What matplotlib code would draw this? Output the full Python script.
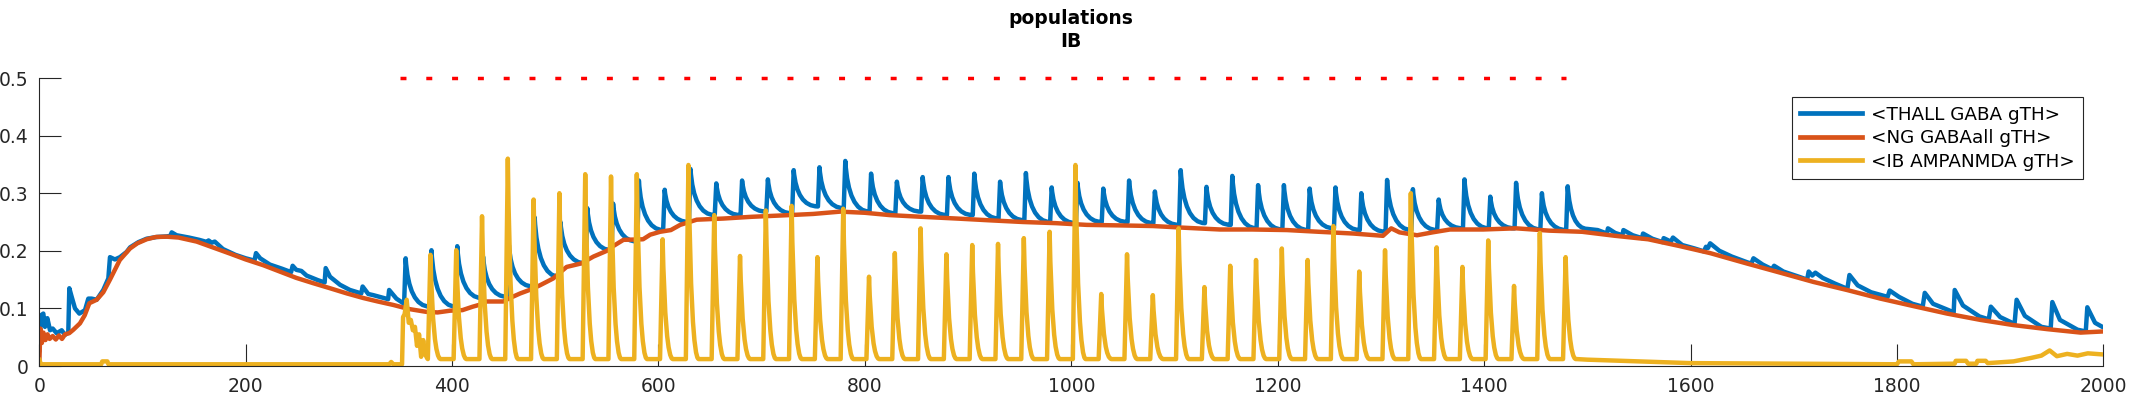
import numpy as np
import matplotlib
matplotlib.use("Agg")
import matplotlib.pyplot as plt
from matplotlib.path import Path
from matplotlib.patches import PathPatch
from matplotlib.lines import Line2D

BLUE, RED, YELLOW, INK = "#0072BD", "#D95319", "#EDB120", "#262626"

# stimulus train (red dotted marker at 0.5)
stim_span = [349.5, 1479]
stim_level = 0.5

# <IB AMPANMDA gTH>: quiet start + first burst, then one peak per pulse
ib_pre_t = [0, 1.5, 60, 61, 66, 67, 339, 341, 343, 351.5, 352.5, 354, 356, 358, 360,
            362, 364, 366, 368, 370, 372, 374, 376]
ib_pre_v = [0.012, 0.003, 0.003, 0.008, 0.008, 0.003, 0.003, 0.007, 0.003, 0.003, 0.085,
            0.09, 0.115, 0.075, 0.08, 0.062, 0.068, 0.035, 0.055, 0.016, 0.045, 0.02, 0.013]
ib_peak_t = [379, 404, 429, 454, 479, 504, 529, 554, 579, 604, 629, 654, 679, 704, 729,
             754, 779, 804, 829, 854, 879, 904, 929, 954, 979, 1004, 1029, 1054, 1079,
             1104, 1129, 1154, 1179, 1204, 1229, 1254, 1279, 1304, 1329, 1354, 1379,
             1404, 1429, 1454, 1479]
ib_peak_v = [0.193, 0.201, 0.260, 0.360, 0.289, 0.300, 0.333, 0.329, 0.333, 0.220,
             0.349, 0.262, 0.191, 0.270, 0.278, 0.189, 0.273, 0.155, 0.196, 0.239,
             0.194, 0.210, 0.212, 0.222, 0.233, 0.349, 0.125, 0.194, 0.123, 0.239,
             0.137, 0.174, 0.184, 0.204, 0.184, 0.243, 0.164, 0.201, 0.300, 0.206,
             0.172, 0.218, 0.139, 0.231, 0.189]
ib_floor = 0.012
ib_post_t = [1490, 1500, 1550, 1600, 1700, 1800, 1802, 1814, 1816, 1856, 1857, 1867,
             1869, 1877, 1878, 1886, 1888, 1913, 1930, 1940, 1948, 1955, 1965, 1975,
             1985, 2000]
ib_post_v = [0.012, 0.011, 0.008, 0.005, 0.004, 0.003, 0.008, 0.008, 0.003, 0.004,
             0.009, 0.009, 0.004, 0.004, 0.009, 0.009, 0.005, 0.008, 0.014, 0.018,
             0.027, 0.017, 0.021, 0.018, 0.022, 0.02]

# <THALL GABA gTH>
thall_pre_t = [0, 1.6, 3.9, 5.5, 7.8, 10.4, 13, 16.8, 21.7, 24.9, 28.1, 29.1, 31.4, 34.6,
               38.8, 44.3, 47.5, 50.7, 55.6, 62, 66.9, 68.5, 73.3, 78.2, 84.6, 88, 96,
               104, 114, 123.5, 127, 128.3, 133, 145, 155, 163, 164, 167, 170, 178, 190,
               200, 208.5, 210, 214, 223.5, 235, 244, 245.5, 249, 254, 259, 270, 276.5,
               277.5, 281.7, 291.4, 301, 312, 313.3, 318.8, 323.7, 338, 339, 346]
thall_pre_v = [0.025, 0.088, 0.091, 0.068, 0.083, 0.062, 0.065, 0.057, 0.062, 0.054,
               0.058, 0.135, 0.12, 0.100, 0.091, 0.097, 0.117, 0.117, 0.115, 0.132,
               0.152, 0.189, 0.185, 0.189, 0.198, 0.206, 0.215, 0.221, 0.224, 0.225,
               0.226, 0.232, 0.227, 0.223, 0.219, 0.215, 0.218, 0.214, 0.216, 0.203,
               0.193, 0.187, 0.183, 0.196, 0.187, 0.176, 0.169, 0.163, 0.174, 0.167,
               0.165, 0.157, 0.149, 0.145, 0.170, 0.155, 0.141, 0.132, 0.126, 0.138,
               0.125, 0.123, 0.116, 0.132, 0.117]
thall_peak_t = [355, 380, 405, 430, 455, 480, 505, 531, 556, 581, 606, 631, 656, 681,
                706, 731, 756, 781, 806, 831, 856, 881, 906, 931, 956, 981, 1006, 1031,
                1056, 1081, 1106, 1131, 1156, 1181, 1206, 1231, 1256, 1281, 1306, 1331,
                1356, 1381, 1406, 1431, 1456, 1481]
thall_peak_v = [0.187, 0.201, 0.208, 0.190, 0.210, 0.258, 0.250, 0.274, 0.282, 0.322,
                0.306, 0.342, 0.317, 0.322, 0.324, 0.340, 0.345, 0.356, 0.334, 0.320,
                0.328, 0.328, 0.334, 0.320, 0.335, 0.310, 0.318, 0.308, 0.322, 0.303,
                0.340, 0.311, 0.330, 0.314, 0.314, 0.308, 0.310, 0.300, 0.323, 0.307,
                0.289, 0.324, 0.294, 0.318, 0.300, 0.312]
thall_trough_v = [0.108, 0.103, 0.103, 0.118, 0.120, 0.138, 0.155, 0.178, 0.201, 0.216,
                  0.236, 0.250, 0.262, 0.262, 0.268, 0.265, 0.277, 0.274, 0.268, 0.265,
                  0.268, 0.262, 0.262, 0.256, 0.253, 0.250, 0.248, 0.250, 0.250, 0.248,
                  0.245, 0.248, 0.245, 0.239, 0.237, 0.236, 0.239, 0.236, 0.233, 0.236,
                  0.236, 0.239, 0.239, 0.239, 0.237, 0.236]
thall_post_t = [1500, 1510, 1519, 1520, 1527, 1534, 1535, 1544, 1553, 1554, 1563, 1573,
                1574, 1581, 1583, 1592, 1604, 1613, 1615, 1617, 1619, 1628, 1640, 1655,
                1659, 1661, 1670, 1679, 1681, 1690, 1705, 1713, 1714.5, 1718, 1721, 1728,
                1740, 1752, 1754, 1762, 1775, 1791, 1793, 1802, 1815, 1825, 1827, 1835,
                1850, 1855, 1856, 1864, 1880, 1889, 1891, 1900, 1914, 1916, 1924, 1940,
                1949, 1950.6, 1958, 1975, 1983, 1984.5, 1992, 2000]
thall_post_v = [0.238, 0.236, 0.230, 0.239, 0.231, 0.227, 0.236, 0.227, 0.222, 0.230,
                0.221, 0.215, 0.222, 0.216, 0.223, 0.210, 0.204, 0.199, 0.207, 0.205,
                0.213, 0.200, 0.190, 0.180, 0.178, 0.187, 0.176, 0.168, 0.174, 0.164,
                0.155, 0.150, 0.164, 0.157, 0.162, 0.153, 0.143, 0.134, 0.158, 0.140,
                0.128, 0.120, 0.131, 0.120, 0.108, 0.103, 0.127, 0.108, 0.097, 0.093,
                0.132, 0.105, 0.086, 0.081, 0.103, 0.085, 0.073, 0.115, 0.087, 0.068,
                0.065, 0.111, 0.080, 0.063, 0.060, 0.102, 0.075, 0.067]

# <NG GABAall gTH>
ng_t = [0, 1, 2.5, 4, 6, 8, 10, 13, 16, 19, 22, 25, 29, 33, 39.4, 44, 48.5, 55.6, 62,
        68.5, 78, 87.9, 95, 104, 113, 123.5, 135, 152.5, 168, 185, 200, 217, 233, 249,
        265, 281.7, 298, 314, 328, 343, 358, 375, 386, 398, 410, 420, 428, 433.5,
        449.6, 456, 466, 475, 485, 498, 505, 511, 525, 537, 550, 556, 566, 585, 592,
        601.5, 612, 621, 637, 663, 690, 727, 750, 776, 800, 824, 855, 889, 920, 953,
        985, 1015, 1050, 1079, 1110, 1144, 1175, 1209, 1240, 1273, 1302, 1310, 1318,
        1335, 1350, 1367, 1399, 1431, 1463, 1495, 1527, 1559, 1590, 1619, 1654.5,
        1687, 1719, 1751.5, 1784, 1816, 1848.6, 1881, 1913, 1945.6, 1978, 2000]
ng_v = [0.0, 0.065, 0.04, 0.058, 0.045, 0.055, 0.047, 0.052, 0.046, 0.053, 0.047,
        0.055, 0.057, 0.063, 0.074, 0.088, 0.109, 0.115, 0.128, 0.15, 0.184, 0.204,
        0.213, 0.22, 0.224, 0.2245, 0.223, 0.216, 0.206, 0.195, 0.185, 0.175, 0.164,
        0.153, 0.144, 0.135, 0.126, 0.118, 0.112, 0.106, 0.099, 0.094, 0.093, 0.096,
        0.097, 0.103, 0.107, 0.112, 0.112, 0.118, 0.126, 0.132, 0.14, 0.152, 0.163,
        0.172, 0.178, 0.19, 0.2, 0.208, 0.219, 0.22, 0.228, 0.233, 0.236, 0.245, 0.254,
        0.256, 0.259, 0.262, 0.264, 0.268, 0.266, 0.262, 0.259, 0.256, 0.253, 0.25,
        0.248, 0.245, 0.244, 0.243, 0.24, 0.237, 0.237, 0.236, 0.233, 0.23, 0.226,
        0.239, 0.232, 0.227, 0.232, 0.237, 0.237, 0.239, 0.235, 0.233, 0.226, 0.22,
        0.208, 0.196, 0.178, 0.162, 0.146, 0.132, 0.117, 0.104, 0.091, 0.080, 0.071,
        0.064, 0.058, 0.06]

labels = ["<THALL GABA gTH>", "<NG GABAall gTH>", "<IB AMPANMDA gTH>"]


def spike_train(pre_t, pre_v, pk_t, pk_v, foot_v, post_t, post_v, rise, bend, tail=None):
    """Polyline pieces joined by sharp rises and curved (quadratic) decays."""
    verts = list(zip(pre_t, pre_v))
    codes = [Path.MOVETO] + [Path.LINETO] * (len(verts) - 1)
    n = len(pk_t)
    for k in range(n):
        verts += [(pk_t[k] - rise, foot_v[k]), (pk_t[k], pk_v[k])]
        codes += [Path.LINETO, Path.LINETO]
        if tail is not None:
            end = (pk_t[k] + tail, foot_v[k])
        elif k + 1 < n:
            end = (pk_t[k + 1] - rise, foot_v[k + 1])
        else:
            end = (post_t[0], post_v[0])
        verts += [(pk_t[k] + bend, end[1]), end]
        codes += [Path.CURVE3, Path.CURVE3]
    verts += list(zip(post_t, post_v))
    codes += [Path.LINETO] * len(post_t)
    return Path(verts, codes)


LW = 3.2
fig = plt.figure(figsize=(21.33, 4.0), dpi=100)
ax = fig.add_axes([0.01842, 0.085, 0.96766, 0.72])

thall = spike_train(thall_pre_t, thall_pre_v, thall_peak_t, thall_peak_v, thall_trough_v,
                    thall_post_t, thall_post_v, rise=1.5, bend=3)
ax.add_patch(PathPatch(thall, fill=False, edgecolor=BLUE, lw=LW, joinstyle="round",
                       capstyle="round", zorder=2))
ax.plot(ng_t, ng_v, color=RED, lw=LW, zorder=2.1)
ib = spike_train(ib_pre_t, ib_pre_v, ib_peak_t, ib_peak_v, [ib_floor] * len(ib_peak_t),
                 ib_post_t, ib_post_v, rise=2.5, bend=2.5, tail=10)
ax.add_patch(PathPatch(ib, fill=False, edgecolor=YELLOW, lw=LW, joinstyle="round",
                       capstyle="round", zorder=2.2))
ax.plot(stim_span, [stim_level, stim_level], color="red", lw=2.5,
        linestyle=(0, (1.72, 5.71)), dash_capstyle="butt", clip_on=False, zorder=3)

ax.set_xlim(0, 2000)
ax.set_ylim(0, 0.5)
ax.set_xticks(np.arange(0, 2001, 200))
ax.set_yticks([0, 0.1, 0.2, 0.3, 0.4, 0.5])
ax.set_yticklabels(["0", "0.1", "0.2", "0.3", "0.4", "0.5"])
for s in ("top", "right"):
    ax.spines[s].set_visible(False)
for s in ("left", "bottom"):
    ax.spines[s].set_color(INK)
    ax.spines[s].set_linewidth(0.8)
ax.tick_params(direction="in", length=15.5, width=0.8, colors=INK, labelsize=13.5)
ax.tick_params(axis="x", pad=8)
ax.tick_params(axis="y", pad=7.5)

handles = [Line2D([], [], color=c, lw=3.4) for c in (BLUE, RED, YELLOW)]
leg = ax.legend(handles, labels, loc="upper right", bbox_to_anchor=(0.990, 0.933),
                borderaxespad=0, fancybox=False, framealpha=1, edgecolor=INK,
                fontsize=13.2, handlelength=3.4, handletextpad=0.45, labelspacing=0.3,
                borderpad=0.45)
leg.get_frame().set_linewidth(0.8)

fig.text(0.50225, 0.925, "populations\nIB", ha="center", va="center", fontsize=13.5,
         fontweight="bold", linespacing=1.25)

fig.savefig("out.png", dpi=100)
